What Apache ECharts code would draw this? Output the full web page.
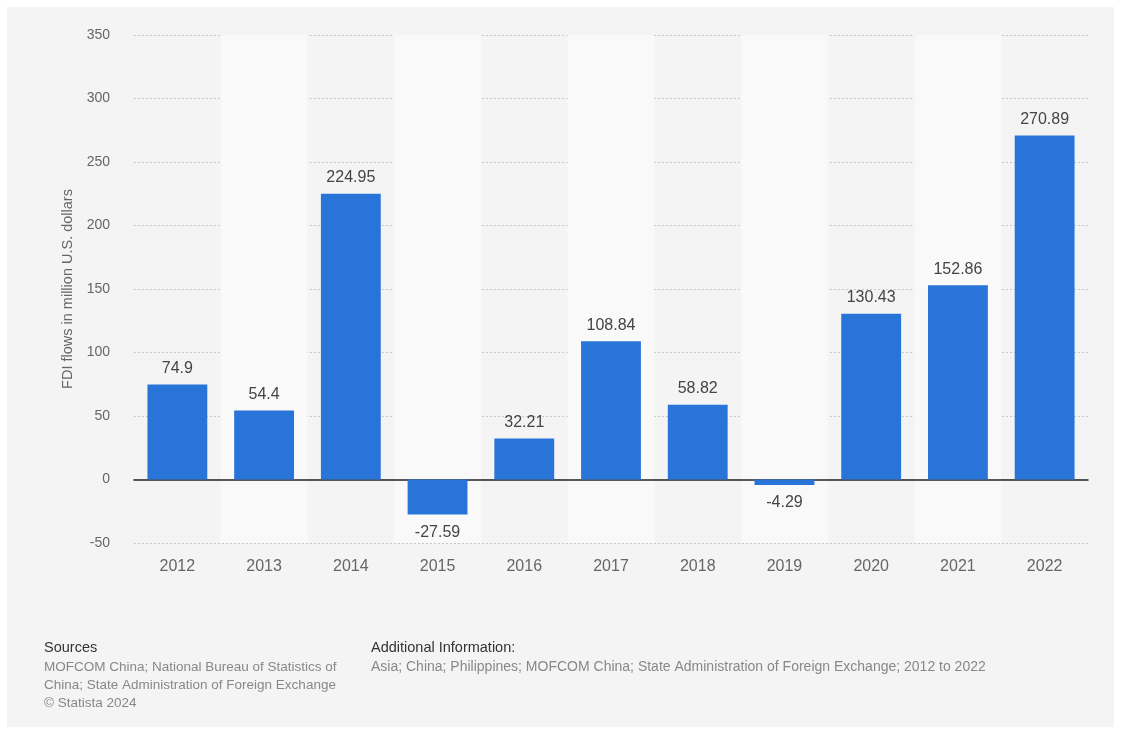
<!DOCTYPE html>
<html>
<head>
<meta charset="utf-8">
<script src="https://cdn.jsdelivr.net/npm/echarts@6/dist/echarts.min.js"></script>
<style>
  html, body { margin: 0; padding: 0; background: #fff; }
  #chart { width: 1121px; height: 732px; }
</style>
</head>
<body>
<div id="chart"></div>
<script>
// data
var years = ['2012', '2013', '2014', '2015', '2016', '2017', '2018', '2019', '2020', '2021', '2022'];
var fdiFlows = [74.9, 54.4, 224.95, -27.59, 32.21, 108.84, 58.82, -4.29, 130.43, 152.86, 270.89];
var yTicks = { min: -50, max: 350, step: 50 };

var font = 'Liberation Sans, Arial, sans-serif';
var myChart = echarts.init(document.getElementById('chart'));

// negative bars get their label below
var barData = fdiFlows.map(function (v) {
    return v < 0 ? { value: v, label: { position: 'bottom', distance: 10 } } : v;
});

var option = {
    backgroundColor: '#fff',
    animation: false,
    textStyle: { fontFamily: font },
    graphic: [
        { type: 'rect', z: -10, shape: { x: 7, y: 7, width: 1107, height: 720 }, style: { fill: '#f4f4f4' } },
        { type: 'text', left: 44, top: 640, style: { text: 'Sources', fill: '#333', font: '14.5px ' + font } },
        { type: 'text', left: 44, top: 658, style: { text: 'MOFCOM China; National Bureau of Statistics of\nChina; State Administration of Foreign Exchange\n© Statista 2024', fill: '#888', font: '13.5px ' + font, lineHeight: 18 } },
        { type: 'text', left: 371, top: 640, style: { text: 'Additional Information:', fill: '#333', font: '14.5px ' + font } },
        { type: 'text', left: 371, top: 658, style: { text: 'Asia; China; Philippines; MOFCOM China; State Administration of Foreign Exchange; 2012 to 2022', fill: '#888', font: '14px ' + font, lineHeight: 18 } }
    ],
    grid: { left: 134, right: 33, top: 35, bottom: 189, containLabel: false },
    xAxis: {
        type: 'category',
        data: years,
        axisLine: { onZero: true, lineStyle: { color: '#222', width: 1.5 } },
        axisTick: { show: false },
        axisLabel: { color: '#666', fontSize: 16, margin: 16 },
        splitArea: { show: true, areaStyle: { color: ['rgba(0,0,0,0)', '#f9f9f9'] } }
    },
    yAxis: {
        type: 'value',
        min: yTicks.min,
        max: yTicks.max,
        interval: yTicks.step,
        name: 'FDI flows in million U.S. dollars',
        nameLocation: 'middle',
        nameGap: 59,
        nameTextStyle: { color: '#666', fontSize: 14.5 },
        axisLine: { show: false },
        axisTick: { show: false },
        axisLabel: { color: '#666', fontSize: 14, margin: 24 },
        splitLine: { lineStyle: { color: '#c8c8c8', type: [2, 2] } }
    },
    series: [{
        type: 'bar',
        data: barData,
        barWidth: '69%',
        itemStyle: { color: '#2874d9' },
        label: {
            show: true,
            color: '#444',
            fontSize: 16,
            distance: 8,
            position: 'top'
        }
    }]
};

myChart.setOption(option);
</script>
</body>
</html>
